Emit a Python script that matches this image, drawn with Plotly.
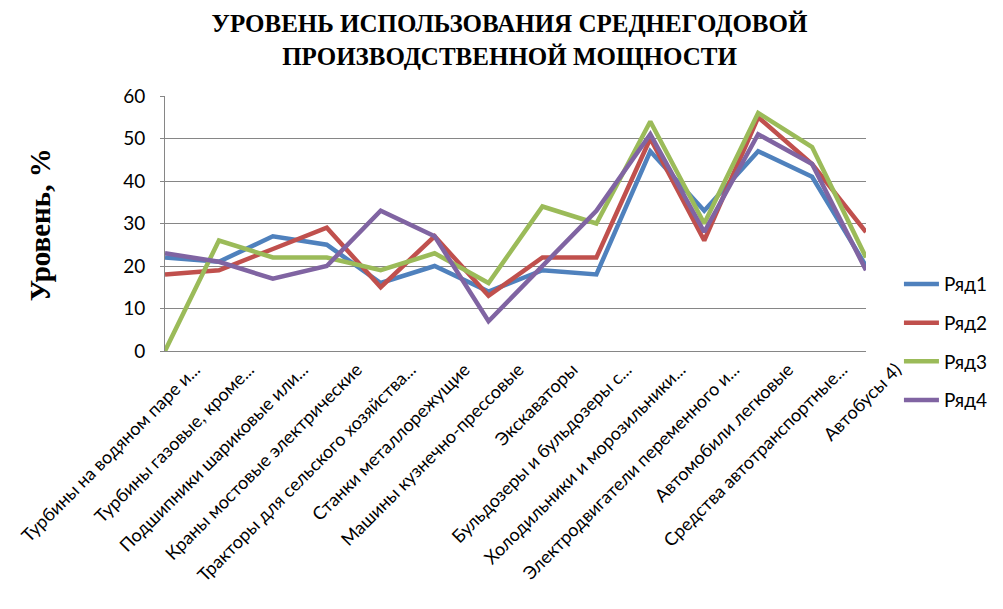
import plotly.graph_objects as go

# categories (as truncated on the original axis)
categories = [
    'Турбины на водяном паре и...',
    'Турбины газовые, кроме...',
    'Подшипники шариковые или...',
    'Краны мостовые электрические',
    'Тракторы для сельского хозяйства...',
    'Станки металлорежущие',
    'Машины кузнечно-прессовые',
    'Экскаваторы',
    'Бульдозеры и бульдозеры с...',
    'Холодильники и морозильники...',
    'Электродвигатели переменного и...',
    'Автомобили легковые',
    'Средства автотранспортные...',
    'Автобусы 4)',
]

row1 = [22, 21, 27, 25, 16, 20, 14, 19, 18, 47, 33, 47, 41, 20]
row2 = [18, 19, 24, 29, 15, 27, 13, 22, 22, 50, 26, 55, 44, 28]
row3 = [0, 26, 22, 22, 19, 23, 16, 34, 30, 54, 30, 56, 48, 22]
row4 = [23, 21, 17, 20, 33, 27, 7, 20, 33, 51, 28, 51, 44, 19]

series_names = ['Ряд1', 'Ряд2', 'Ряд3', 'Ряд4']
colors = ['#4F81BD', '#C0504D', '#9BBB59', '#8064A2']

fig = go.Figure()
for i, (name, vals) in enumerate(zip(series_names, [row1, row2, row3, row4])):
    fig.add_trace(go.Scatter(
        x=categories, y=vals, name=name, mode='lines',
        line=dict(color=colors[i], width=4.5),
        legendgroup=name,
    ))

fig.update_layout(
    template='none',
    width=1003, height=609,
    margin=dict(l=157, r=145, t=88, b=266),
    paper_bgcolor='white', plot_bgcolor='white',
    font=dict(family='Lato', size=19, color='black'),
    title=dict(
        text='УРОВЕНЬ ИСПОЛЬЗОВАНИЯ СРЕДНЕГОДОВОЙ<br>ПРОИЗВОДСТВЕННОЙ МОЩНОСТИ',
        x=0.5, xanchor='center', y=0.96, yanchor='top',
        font=dict(family='Liberation Serif, Times New Roman, serif', size=25,
                  color='black', weight='bold'),
    ),
    legend=dict(
        x=1.047, y=0.035, xanchor='left', yanchor='middle',
        font=dict(family='Lato', size=19),
        traceorder='grouped', tracegroupgap=11,
        itemwidth=35,
        bgcolor='rgba(0,0,0,0)',
    ),
    showlegend=True,
    annotations=[dict(
        text='Уровень, %', textangle=-90,
        xref='paper', yref='paper', x=-0.178, y=0.494,
        xanchor='center', yanchor='middle', showarrow=False,
        font=dict(family='Liberation Serif', size=29, color='black', weight='bold'),
    )],
)

fig.update_xaxes(
    type='category', tickangle=-45, automargin=False,
    ticklabelshift=30, tickfont=dict(size=18),
    showgrid=False, showline=True, linecolor='#868686', linewidth=1,
    ticks='', zeroline=False,
)
fig.update_yaxes(
    range=[0, 60], dtick=10, automargin=False,
    showgrid=True, gridcolor='#868686', gridwidth=1,
    showline=True, linecolor='#868686', linewidth=1,
    ticks='outside', ticklen=4, tickcolor='#868686',
    ticklabelstandoff=11,
    zeroline=False,
)

fig.write_html("out.html")
